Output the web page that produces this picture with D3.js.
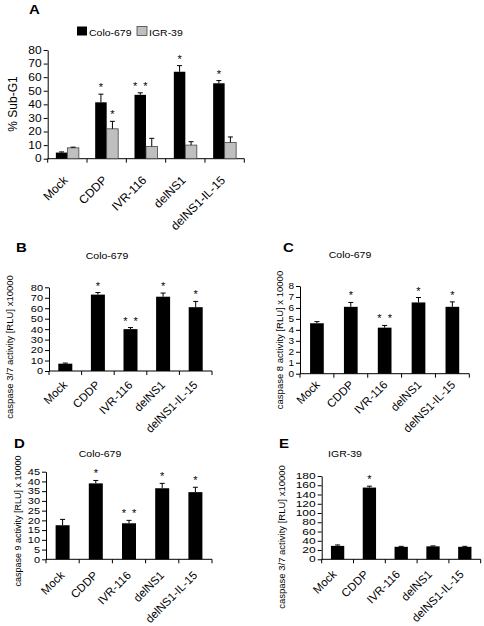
<!DOCTYPE html>
<html><head><meta charset="utf-8">
<script src="https://cdn.jsdelivr.net/npm/d3@7"></script>
<style>body{margin:0;background:#fff}svg{display:block;font-family:"Liberation Sans",Arial,sans-serif}</style>
</head><body><svg id="c" width="484" height="626"></svg>
<script>
const categories = ["Mock","CDDP","IVR-116","delNS1","delNS1-IL-15"];
const S1 = "*", S2 = "*\u00a0\u00a0*";
// Panel A
const aColo = [4.5, 41.5, 47, 64, 55.5];
const aColoErr = [0.5, 6, 1.5, 4.5, 2];
const aIGR = [8, 22, 9, 10, 12];
const aIGRErr = [0.5, 5.5, 6, 2.5, 4];
const aColoSig = ["", S1, S2, S1, S1];
const aIGRSig = ["", S1, "", "", ""];
// Panel B
const bVals = [7, 73, 40, 71, 61];
const bErr = [0.6, 2, 1.5, 3.5, 5.5];
const bSig = ["", S1, S2, S1, S1];
// Panel C
const cVals = [4.6, 6.1, 4.2, 6.5, 6.1];
const cErr = [0.15, 0.4, 0.2, 0.45, 0.45];
const cSig = ["", S1, S2, S1, S1];
// Panel D
const dVals = [17.5, 39, 18.5, 36.5, 34.5];
const dErr = [3, 1.5, 1.5, 2.5, 2.5];
const dSig = ["", S1, S2, S1, S1];
// Panel E
const eVals = [29, 155, 27, 28, 27];
const eErr = [2, 3, 1, 1, 1];
const eSig = ["", S1, "", "", ""];

const svg = d3.select("#c");

function panel(o) {
  const g = svg.append("g");
  const x = d3.scaleBand().domain(categories).range([o.x0, o.x1]).padding(0);
  const y = d3.scaleLinear().domain([0, o.ymax]).range([o.y0, o.y1]);
  const ya = g.append("g").attr("transform", `translate(${o.x0},0)`)
    .call(d3.axisLeft(y).tickValues(d3.range(0, o.ymax + 0.001, o.step)).tickSize(4).tickSizeOuter(0).tickPadding(2));
  ya.select(".domain").attr("stroke", "#000");
  ya.selectAll("text").attr("font-size", o.tickFs).attr("fill", "#000")
    .attr("font-family", "Liberation Sans, Arial, sans-serif")
    .attr("transform", `scale(1,${o.tsy})`);
  g.append("line").attr("x1", o.x0).attr("x2", o.x1).attr("y1", o.y0).attr("y2", o.y0).attr("stroke", "#000");
  const bounds = categories.map(c => x(c)).concat([x(categories[categories.length-1]) + x.bandwidth()]);
  g.selectAll(".xt").data(bounds).enter().append("line")
    .attr("x1", d => d).attr("x2", d => d).attr("y1", o.y0).attr("y2", o.y0 + 4).attr("stroke", "#000");
  g.selectAll(".xl").data(categories).enter().append("text")
    .attr("transform", c => `translate(${x(c) + x.bandwidth()/2 + o.ldx},${o.y0 + o.ldy}) rotate(-45)`)
    .attr("text-anchor", "end").attr("dominant-baseline", "hanging")
    .attr("font-size", o.labFs).text(c => c);
  const n = o.series.length;
  o.series.forEach((s, si) => {
    const bw = o.bw;
    const bx = c => x(c) + x.bandwidth()/2 - n*bw/2 + si*bw;
    g.selectAll(null).data(categories).enter().append("rect")
      .attr("x", c => bx(c)).attr("width", bw)
      .attr("y", (c, i) => y(s.vals[i])).attr("height", (c, i) => o.y0 - y(s.vals[i]))
      .attr("fill", s.color).attr("stroke", s.stroke).attr("stroke-width", s.stroke === "none" ? 0 : 0.8);
    g.selectAll(null).data(categories).enter().append("path")
      .attr("d", (c, i) => {
        const cx = bx(c) + bw/2, t = y(s.vals[i] + s.err[i]), b = y(s.vals[i]);
        return `M${cx},${b}V${t}M${cx-2.5},${t}H${cx+2.5}`;
      }).attr("stroke", "#000").attr("stroke-width", 1).attr("fill", "none");
    g.selectAll(null).data(categories).enter().append("text")
      .attr("x", c => bx(c) + bw/2).attr("y", (c, i) => y(s.vals[i] + s.err[i]) - 3)
      .attr("text-anchor", "middle").attr("font-size", 11).text((c, i) => s.sig[i]);
  });
  g.append("text").attr("transform", `translate(${o.ylx},${o.yly}) rotate(-90)`)
    .attr("text-anchor", "middle").attr("font-size", o.ylFs).text(o.ylab);
  if (o.title) g.append("text").attr("transform", `translate(${o.tx},${o.ty}) scale(1,0.85)`)
    .attr("text-anchor", "middle").attr("font-size", 10.5).text(o.title);
  g.append("text").attr("transform", `translate(${o.lx},${o.ly}) scale(1,0.82)`)
    .attr("font-size", 15).attr("font-weight", "bold").text(o.letter);
  return g;
}

panel({x0: 47.7, x1: 244.3, y0: 158.7, y1: 50, ymax: 80, step: 10, tickFs: 12, tsy: 0.85, labFs: 12, ldx: -5, ldy: 16, bw: 11.5,
  series: [{vals: aColo, err: aColoErr, sig: aColoSig, color: "#000", stroke: "none"},
           {vals: aIGR, err: aIGRErr, sig: aIGRSig, color: "#bfbfbf", stroke: "#444"}],
  ylab: "% Sub-G1", ylx: 17, yly: 104, ylFs: 12, letter: "A", lx: 29, ly: 14});

const legendNames = ["Colo-679", "IGR-39"];
const legendColors = ["#000", "#bfbfbf"];
const legX = d3.scalePoint().domain(legendNames).range([77, 137]);
legendNames.forEach((name, i) => {
  svg.append("rect").attr("x", legX(name)).attr("y", 26.5).attr("width", 10).attr("height", 9)
    .attr("fill", legendColors[i]).attr("stroke", "#444").attr("stroke-width", i === 0 ? 0 : 0.8);
  svg.append("text").attr("transform", `translate(${legX(name) + 12},35.5) scale(1,0.9)`)
    .attr("font-size", 10.5).text(name);
});

panel({x0: 49, x1: 212, y0: 371, y1: 287.3, ymax: 80, step: 10, tickFs: 11, tsy: 0.82, labFs: 11.5, ldx: -3, ldy: 9, bw: 14,
  series: [{vals: bVals, err: bErr, sig: bSig, color: "#000", stroke: "none"}],
  ylab: "caspase 3/7 activity [RLU] x10000", ylx: 13, yly: 347, ylFs: 9.5, title: "Colo-679", tx: 107, ty: 259,
  letter: "B", lx: 16, ly: 252});

panel({x0: 300, x1: 469.3, y0: 373.7, y1: 286, ymax: 8, step: 1, tickFs: 10, tsy: 0.9, labFs: 11.5, ldx: -2, ldy: 6, bw: 13.7,
  series: [{vals: cVals, err: cErr, sig: cSig, color: "#000", stroke: "none"}],
  ylab: "caspase 8 activity [RLU] x 10000", ylx: 283, yly: 340, ylFs: 9.5, title: "Colo-679", tx: 350, ty: 258,
  letter: "C", lx: 283, ly: 252});

panel({x0: 46, x1: 212, y0: 559.3, y1: 471.7, ymax: 45, step: 5, tickFs: 11, tsy: 0.8, labFs: 11.5, ldx: -3, ldy: 11, bw: 14,
  series: [{vals: dVals, err: dErr, sig: dSig, color: "#000", stroke: "none"}],
  ylab: "caspase 9 activity [RLU] x 10000", ylx: 21, yly: 521, ylFs: 9, title: "Colo-679", tx: 100, ty: 457,
  letter: "D", lx: 14, ly: 448});

panel({x0: 321.7, x1: 480.7, y0: 559.3, y1: 476, ymax: 180, step: 20, tickFs: 12, tsy: 0.7, labFs: 11.5, ldx: -6, ldy: 10, bw: 13.3,
  series: [{vals: eVals, err: eErr, sig: eSig, color: "#000", stroke: "none"}],
  ylab: "caspase 3/7 activity [RLU] x10000", ylx: 285, yly: 537, ylFs: 9.5, title: "IGR-39", tx: 345, ty: 457,
  letter: "E", lx: 279, ly: 448});
</script></body></html>
